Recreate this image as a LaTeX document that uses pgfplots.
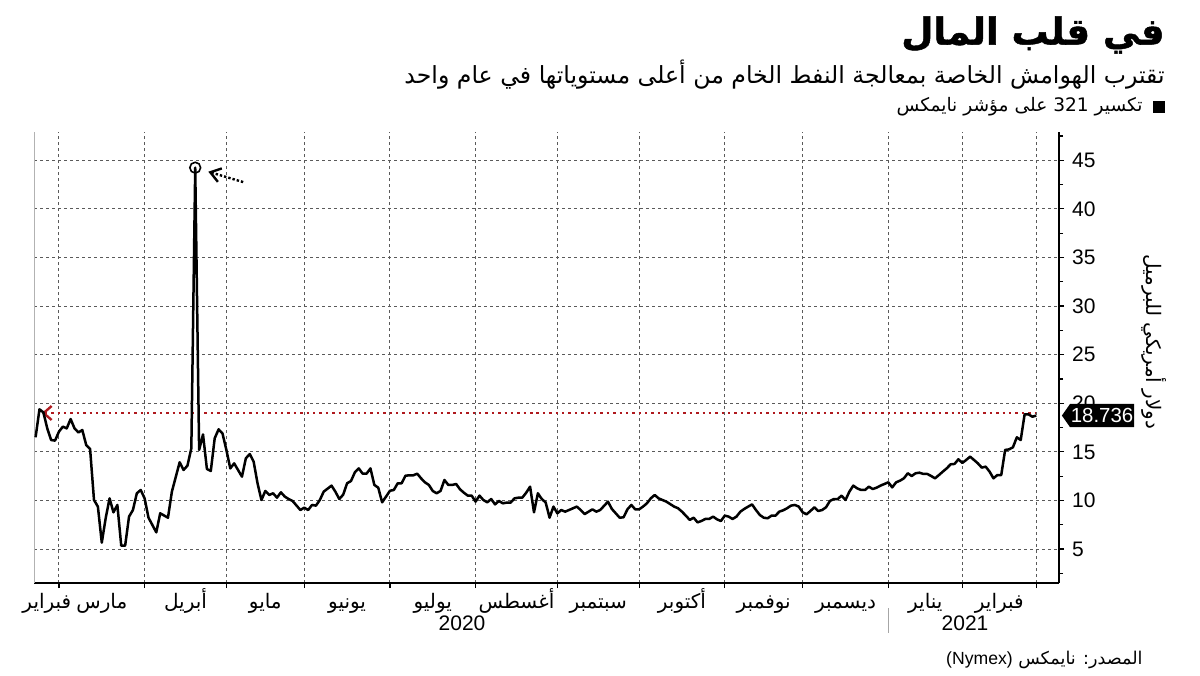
\documentclass[border=0pt]{standalone}
\usepackage{pgfplots}
\pgfplotsset{compat=1.18}
\usepackage{fontspec}
\setmainfont{Liberation Sans}
\newfontfamily\arabicfont[Script=Arabic, BoldFeatures={FakeBold=1.2}]{DejaVu Sans}
\TeXXeTstate=1
\usetikzlibrary{arrows.meta,shapes.symbols}
\newcommand{\ar}[1]{{\arabicfont\beginR #1\endR}}
\definecolor{gridc}{RGB}{90,90,90}
\definecolor{redl}{RGB}{175,25,30}
\begin{document}
\begin{tikzpicture}[x=1bp,y=1bp]
\useasboundingbox (0,0) rectangle (600,337.5);
\begin{axis}[
  at={(17.15bp,46bp)}, anchor=south west,
  scale only axis, width=512.35bp, height=225.5bp,
  xmin=-0.33, xmax=262.84, ymin=1.51, ymax=47.91,
  axis x line*=bottom, axis y line*=right,
  axis line style={black, line width=0.7bp},
  tick align=outside,
  major tick length=2.5bp, minor tick length=2bp,
  every tick/.style={black, line width=0.6bp},
  xtick={6,28,49,69,91,113,134,155,177,197,219,238,257},
  xticklabels={},
  extra x ticks={2.9,17,38.5,59,80,102,123.5,144.5,166,187,208,228.5,247.5},
  extra x tick labels={\ar{فبراير},\ar{مارس},\ar{أبريل},\ar{مايو},\ar{يونيو},\ar{يوليو},\ar{أغسطس},\ar{سبتمبر},\ar{أكتوبر},\ar{نوفمبر},\ar{ديسمبر},\ar{يناير},\ar{فبراير}},
  extra x tick style={grid=none, major tick length=0pt,
     tick label style={anchor=base, yshift=-12.5bp, font=\fontsize{10bp}{12bp}\selectfont}},
  ytick={5,10,...,45},
  minor ytick={2.5,7.5,...,47.5},
  yticklabel style={font=\fontsize{10.5bp}{12bp}\selectfont, xshift=0.5bp},
  /pgf/number format/assume math mode=true,
  xmajorgrids, ymajorgrids,
  major grid style={gridc, dash pattern=on 1.5bp off 1.5bp, line width=0.5bp},
  clip=false,
]
\draw[gray!60, line width=0.7bp] (rel axis cs:0,0) -- (rel axis cs:0,1);
\draw[redl, dotted, line width=1.2bp, {Straight Barb[length=4bp,width=7bp]}-] (axis cs:1.6,19.0) -- (axis cs:257,19.0);
\addplot[black, line width=1.25bp, line join=round] coordinates {
(0,16.5) (1,19.38) (2,19.07) (3,17.42) (4,16.22) (5,16.16) (6,17.08) (7,17.6) (8,17.42) (9,18.38)
(10,17.42) (11,17.0) (12,17.25) (13,15.71) (14,15.3) (15,10.05) (16,9.37) (17,5.66) (18,8.17) (19,10.22)
(20,8.78) (21,9.54) (22,5.35) (23,5.35) (24,8.34) (25,9.02) (26,10.74) (27,11.08) (28,10.22) (29,8.23)
(31,6.72) (32,8.68) (34,8.23) (35,10.9) (37,13.93) (38,13.14) (39,13.58) (40,15.37) (41,44.24) (42,15.2)
(43,16.8) (44,13.24) (45,13.04) (46,16.4) (47,17.32) (48,16.9) (49,15.2) (50,13.3) (51,13.82) (53,12.45)
(54,14.34) (55,14.78) (56,14.0) (57,11.77) (58,10.05) (59,10.98) (60,10.57) (61,10.74) (62,10.29) (63,10.84)
(64,10.4) (65,10.15) (66,9.95) (68,9.02) (69,9.26) (70,9.02) (71,9.54) (72,9.47) (73,10.05) (74,10.91)
(76,11.53) (77,10.9) (78,10.15) (79,10.6) (80,11.77) (81,12.0) (82,12.9) (83,13.3) (84,12.76) (85,12.76)
(86,13.3) (87,11.6) (88,11.32) (89,9.81) (90,10.4) (91,11.0) (92,11.08) (93,11.77) (94,11.77) (95,12.55)
(96,12.59) (97,12.59) (98,12.76) (99,12.28) (100,11.87) (101,11.6) (102,10.98) (103,10.74) (104,10.98) (105,12.11)
(106,11.6) (107,11.6) (108,11.7) (109,11.15) (110,10.8) (111,10.5) (112,10.5) (113,9.88) (114,10.5) (115,10.05)
(116,9.81) (117,10.15) (118,9.6) (119,9.95) (120,9.71) (121,9.78) (122,9.78) (123,10.22) (124,10.29) (125,10.29)
(126,10.8) (127,11.42) (128,8.78) (129,10.74) (130,10.15) (131,9.8) (132,8.23) (133,9.37) (134,8.68) (135,9.02)
(136,8.85) (137,9.02) (139,9.37) (140,9.02) (141,8.6) (143,9.09) (144,8.85) (145,9.02) (147,9.88) (148,9.13)
(149,8.68) (150,8.23) (151,8.27) (152,9.09) (153,9.54) (154,9.09) (155,9.09) (156,9.37) (157,9.71) (158,10.22)
(159,10.57) (160,10.22) (161,10.05) (162,9.88) (164,9.37) (165,9.2) (166,8.85) (167,8.44) (168,8.0) (169,8.23)
(170,7.75) (171,7.89) (172,8.1) (173,8.1) (174,8.34) (175,8.06) (176,7.89) (177,8.44) (178,8.34) (179,8.1)
(180,8.34) (181,8.85) (182,9.13) (183,9.37) (184,9.6) (185,9.02) (186,8.51) (187,8.23) (188,8.17) (189,8.44)
(190,8.44) (191,8.85) (192,8.99) (193,9.2) (194,9.47) (195,9.54) (196,9.37) (197,8.78) (198,8.58) (199,8.92)
(200,9.3) (201,8.92) (202,9.02) (203,9.3) (204,9.95) (205,10.15) (206,10.15) (207,10.5) (208,10.05) (209,10.91)
(210,11.53) (211,11.25) (212,11.08) (213,11.08) (214,11.42) (215,11.18) (216,11.32) (217,11.53) (218,11.7) (219,11.87)
(220,11.35) (221,11.87) (222,12.04) (223,12.28) (224,12.8) (225,12.52) (226,12.8) (227,12.86) (228,12.73) (229,12.73)
(230,12.52) (231,12.28) (232,12.62) (233,12.97) (234,13.31) (235,13.72) (236,13.76) (237,14.24) (238,13.86) (239,14.17)
(240,14.51) (241,14.17) (242,13.82) (243,13.38) (244,13.48) (245,12.97) (246,12.28) (247,12.62) (248,12.62) (249,15.2)
(250,15.26) (251,15.47) (252,16.5) (253,16.22) (254,18.86) (255,18.86) (256,18.62) (257,18.736)
};
\addplot[only marks, mark=o, mark size=2.7bp, mark options={line width=0.8bp, black}] coordinates {(41,44.24)};
\draw[black, densely dotted, line width=1.2bp, {Straight Barb[length=5bp,width=7bp]}-] (axis cs:44.35,43.83) -- (axis cs:53.8,42.7);
\coordinate (lastpt) at (axis cs:262.84,18.736);
\end{axis}
\node[signal, signal to=west, signal pointer angle=110, fill=black, text=white,
  font=\fontsize{10.2bp}{12bp}\selectfont, inner xsep=0.4bp, inner ysep=2.2bp, anchor=west, xshift=1.2bp] at (lastpt) {18.736};
% titles
\node[anchor=east, inner sep=0pt, font=\arabicfont\bfseries\fontsize{18.5bp}{22bp}\selectfont] at (582.5,320) {\ar{في قلب المال}};
\node[anchor=east, inner sep=0pt, font=\fontsize{11.8bp}{14bp}\selectfont] at (582.5,300) {\ar{تقترب الهوامش الخاصة بمعالجة النفط الخام من أعلى مستوياتها في عام واحد}};
\fill[black] (576.5,281) rectangle (582.5,287);
\node[anchor=east, inner sep=0pt, font=\fontsize{9.3bp}{12bp}\selectfont] at (571.5,284) {\ar{تكسير \beginL 321\endL{} على مؤشر نايمكس}};
% y label
\node[rotate=-90, font=\fontsize{10bp}{12bp}\selectfont] at (577,166.5) {\ar{دولار أمريكي للبرميل}};
% years
\node[anchor=base, font=\fontsize{10.5bp}{12bp}\selectfont] at (231,22.5) {2020};
\node[anchor=base, font=\fontsize{10.5bp}{12bp}\selectfont] at (482.5,22.5) {2021};
\draw[gray!70, line width=0.5bp] (444,33.5) -- (444,21);
% source
\node[anchor=east, inner sep=0pt, font=\fontsize{8.8bp}{12bp}\selectfont] at (571.5,7.5) {\ar{المصدر: نايمكس \beginL{\rmfamily(Nymex)}\endL}};
\end{tikzpicture}
\end{document}
